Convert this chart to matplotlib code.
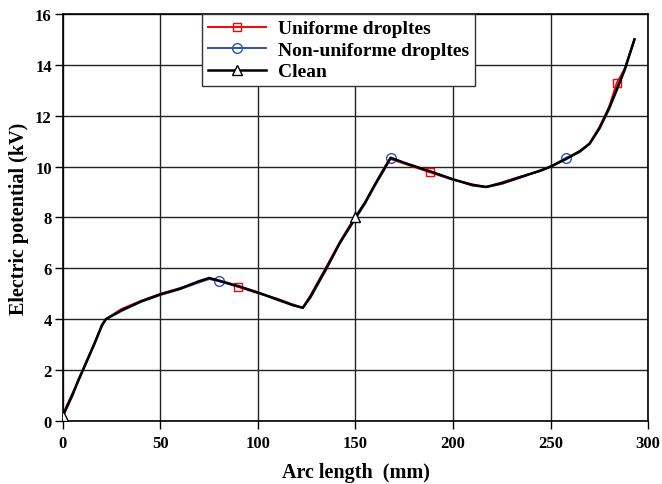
import matplotlib.pyplot as plt

plt.rcParams['font.family'] = ['Liberation Serif', 'DejaVu Serif']
plt.rcParams['font.weight'] = 'bold'

# Potencial eléctrico a lo largo del aislador (kV) frente a la longitud de arco (mm)
arc_len = [0, 2, 5, 8, 12, 16, 20, 22, 30, 40, 50, 60, 70, 75, 80, 90, 100, 110,
           118, 123, 127, 135, 142, 150, 155, 160, 165, 168, 175, 188, 200, 210,
           217, 225, 235, 245, 250, 258, 265, 270, 275, 280, 284, 288, 293]

clean = [0.2, 0.55, 1.05, 1.6, 2.3, 3.0, 3.75, 4.0, 4.35, 4.7, 4.98, 5.2, 5.5, 5.62,
         5.52, 5.3, 5.05, 4.78, 4.55, 4.45, 4.9, 6.0, 7.0, 8.0, 8.6, 9.3, 9.95, 10.35,
         10.15, 9.82, 9.5, 9.28, 9.2, 9.35, 9.6, 9.85, 10.0, 10.3, 10.6, 10.9, 11.5,
         12.3, 13.05, 13.8, 15.0]

uniforme = [0.25, 0.6, 1.1, 1.6, 2.35, 3.0, 3.8, 4.0, 4.4, 4.72, 5.0, 5.22, 5.48, 5.6,
            5.5, 5.27, 5.02, 4.8, 4.58, 4.45, 4.95, 6.05, 7.05, 8.05, 8.6, 9.3, 10.0, 10.3,
            10.12, 9.78, 9.48, 9.3, 9.2, 9.38, 9.62, 9.83, 10.0, 10.32, 10.62, 10.92, 11.55,
            12.35, 13.3, 13.85, 15.0]

no_uniforme = [0.2, 0.5, 1.0, 1.65, 2.3, 3.05, 3.75, 4.0, 4.32, 4.68, 4.95, 5.18, 5.45, 5.58,
               5.5, 5.28, 5.05, 4.75, 4.55, 4.45, 4.85, 5.95, 7.0, 7.95, 8.55, 9.25, 9.9, 10.35,
               10.15, 9.82, 9.5, 9.25, 9.2, 9.32, 9.58, 9.85, 10.0, 10.35, 10.58, 10.9, 11.48,
               12.25, 13.0, 13.85, 15.0]

fig = plt.figure(figsize=(6.62, 4.85), dpi=100)
ax = fig.add_axes([0.095, 0.130, 0.884, 0.839])

ax.plot(arc_len, uniforme, color='red', lw=1.4, marker='s', markevery=[15, 29, 42],
        mfc='none', mec='red', ms=6, label='Uniforme dropltes', zorder=3)
ax.plot(arc_len, no_uniforme, color='#3050b0', lw=1.4, marker='o', markevery=[14, 27, 37],
        mfc='none', mec='#3050b0', ms=7, label='Non-uniforme dropltes', zorder=4)
ax.plot(arc_len, clean, color='black', lw=1.8, marker='^', markevery=[0, 23],
        mfc='white', mec='black', ms=7, label='Clean', zorder=5)

ax.set_xlim(0, 300)
ax.set_ylim(0, 16)
ax.set_xticks(range(0, 301, 50))
ax.set_yticks(range(0, 17, 2))
ax.grid(True, color='#222222', lw=1)
ax.set_axisbelow(True)
ax.tick_params(axis='x', direction='out', length=6, width=1, labelsize=12, pad=4)
ax.tick_params(axis='y', direction='out', length=6, width=1, labelsize=12, pad=2)
for lbl in ax.get_xticklabels() + ax.get_yticklabels():
    lbl.set_fontweight('bold')
for s in ax.spines.values():
    s.set_linewidth(1.2)

ax.set_xlabel('Arc length  (mm)', fontsize=14.5, fontweight='bold', labelpad=8)
ax.set_ylabel('Electric potential (kV)', fontsize=14.5, fontweight='bold', labelpad=4)

leg = ax.legend(loc='upper left', bbox_to_anchor=(0.238, 1.0), borderaxespad=0,
                fancybox=False, framealpha=1, edgecolor='#333333',
                prop={'weight': 'bold', 'size': 14}, handlelength=3,
                borderpad=0.3, labelspacing=0.2, handletextpad=0.6)
leg.get_frame().set_linewidth(1)

plt.savefig('out.png', dpi=100)
